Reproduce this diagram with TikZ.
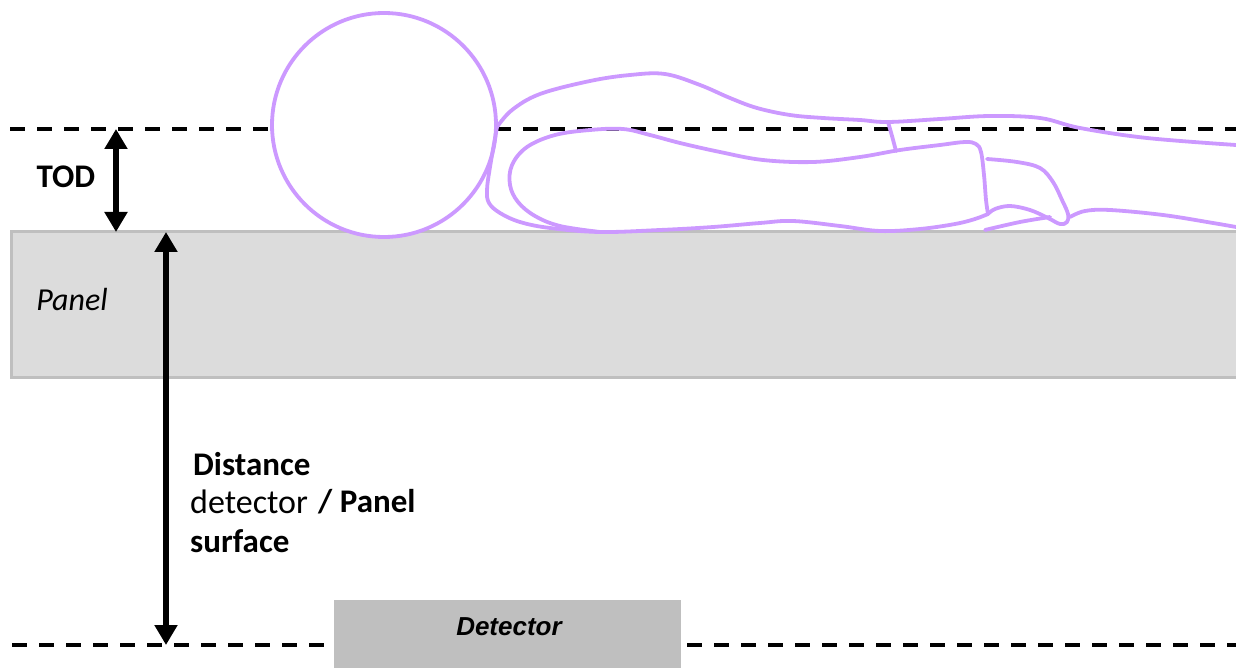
\documentclass[tikz,border=0pt]{standalone}
\usepackage{fontspec}
\newfontfamily\labelfont{Carlito}
\newfontfamily\boxfont{Liberation Sans}
\usetikzlibrary{arrows.meta}
\definecolor{figline}{RGB}{204,153,255}
\definecolor{panelfill}{RGB}{220,220,220}
\definecolor{paneledge}{RGB}{191,191,191}
\definecolor{detfill}{RGB}{191,191,191}
\begin{document}
\begin{tikzpicture}[x=1pt,y=-1pt,
  refline/.style={black, line width=3.5pt, dash pattern=on 15pt off 12pt},
  dimarrow/.style={black, line width=5.5pt,
    {Triangle[width=22pt,length=20pt]}-{Triangle[width=22pt,length=20pt]}},
  body/.style={figline, line width=3.8pt, line cap=round, line join=round},
  lbl/.style={inner sep=0pt, font=\labelfont\bfseries\fontsize{33}{38}\selectfont},
  lblreg/.style={inner sep=0pt, font=\labelfont\fontsize{34}{38}\selectfont},
]
\useasboundingbox (0,0) rectangle (1236,668);

% panel (table top)
\draw[fill=panelfill, draw=paneledge, line width=3pt] (11,232) rectangle (1250,377);
\node[inner sep=0pt, font=\labelfont\itshape\fontsize{32}{36}\selectfont] (panel) at (72,299) {Panel};

% reference levels
\draw[refline] (10,129) -- (1236,129);
\draw[refline] (12,645) -- (1236,645);

% detector
\fill[detfill] (334,600) rectangle (681,668);
\node[inner sep=0pt, font=\boxfont\bfseries\itshape\fontsize{26}{30}\selectfont] (det) at (509,627) {Detector};

% patient: head
\draw[body, fill=white] (384,125) circle[radius=112];

% patient: back line
\draw[body] plot[smooth, tension=0.6] coordinates {(497,127) (512,110) (540,94) (590,81) (630,75) (665,74) (700,85) (730,98) (757,108) (790,115) (823,118) (860,120) (888,122) (940,119) (990,116) (1040,118) (1080,128) (1147,138) (1236,145)};

% patient: chest and belly line
\draw[body] plot[smooth, tension=0.6] coordinates {(497,127) (490,167) (487,190) (489,203) (500,213) (520,222) (550,228) (600,232) (660,230) (713,227) (760,223) (793,221) (840,226) (880,231) (920,229) (955,224) (975,219) (988,214)};

% patient: arm
\draw[body] plot[smooth, tension=0.6] coordinates {(600,232) (560,226) (535,216) (518,202) (510,185) (512,165) (527,147) (555,135) (590,130) (623,129) (650,135) (680,143) (720,152) (763,160) (813,162) (860,157) (900,150) (940,145) (965,142) (976,144) (981,152) (984,175) (986,200) (988,214)};

% patient: hand
\draw[body] plot[smooth, tension=0.6] coordinates {(987,159) (1017,162) (1040,168) (1053,182) (1062,200) (1068,214) (1067,222) (1060,224) (1048,218) (1030,210) (1010,206) (995,209) (988,214)};

% patient: leg
\draw[body] plot[smooth, tension=0.6] coordinates {(1070,217) (1085,211) (1110,210) (1163,215) (1213,223) (1236,227)};
\draw[body] plot[smooth, tension=0.6] coordinates {(985,230) (1020,222) (1050,217)};
\draw[body] plot[smooth, tension=0.6] coordinates {(888,122) (892,136) (896,151)};

% dimensions
\coordinate (todtop) at (116,129);
\coordinate (todbot) at (116,232);
\coordinate (ddtop) at (166,232);
\coordinate (ddbot) at (166,645);
\draw[dimarrow] (todtop) -- (todbot);
\draw[dimarrow] (ddtop) -- (ddbot);

\node[lbl] (tod) at (66,177) {TOD};
\node[lbl, anchor=base west] (dist1) at (193,475) {Distance};
\node[lblreg, anchor=base west] (dist2) at (190,513) {detector};
\node[lbl, anchor=base west] (dist3) at (318,512) {/ Panel};
\node[lbl, anchor=base west] (dist4) at (190,552) {surface};
\end{tikzpicture}
\end{document}
